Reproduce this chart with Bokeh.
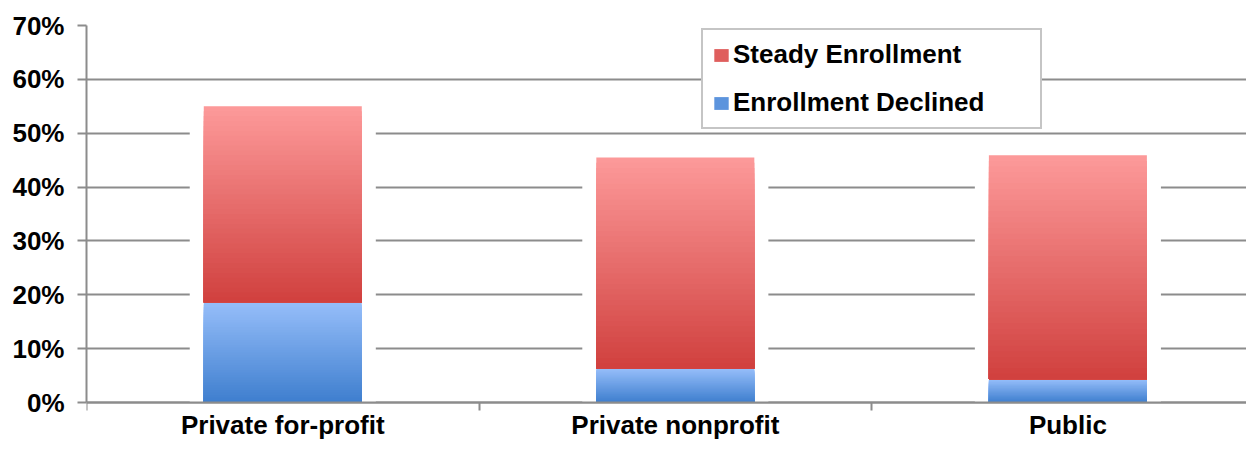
from bokeh.plotting import figure
from bokeh.models import Range1d, FixedTicker, PrintfTickFormatter, Legend, LegendItem
from bokeh.embed import file_html
from bokeh.resources import INLINE

# ---- data ----
categories = ["Private for-profit", "Private nonprofit", "Public"]
declined = [18.6, 6.3, 4.3]      # Enrollment Declined (%)
steady = [36.4, 39.2, 41.6]      # Steady Enrollment (%)
y_ticks = [0, 10, 20, 30, 40, 50, 60, 70]
series_names = ["Steady Enrollment", "Enrollment Declined"]

# ---- style / layout ----
GRAY = "#8c8c8c"
FONT = "Liberation Sans"
RED_TOP, RED_BOT = (253, 154, 154), (208, 64, 62)
BLUE_TOP, BLUE_BOT = (150, 190, 250), (62, 126, 206)
N_SLICES = 40
BAR_W = 0.4025
GLOW_W = 0.474
X_END = 2.955      # right edge of the visible area, in category units
Y_LOW = -7.24      # room under the 0% line for the category labels

xs = [i + 0.5 for i in range(len(categories))]
totals = [d + s for d, s in zip(declined, steady)]


def gradient_slices(xpos, bottoms, tops, c_top, c_bot, n=N_SLICES):
    X, B, T, C = [], [], [], []
    for k in range(n, 0, -1):
        f = k / n
        t = (k - 0.5) / n
        col = tuple(int(round(cb + (ct - cb) * t)) for cb, ct in zip(c_bot, c_top))
        hexc = "#%02x%02x%02x" % col
        for x, b, tp in zip(xpos, bottoms, tops):
            X.append(x)
            B.append(b)
            T.append(b + (tp - b) * f)
            C.append(hexc)
    return dict(x=X, bottom=B, top=T, color=C)


p = figure(width=1246, height=441,
           x_range=Range1d(0, X_END), y_range=Range1d(Y_LOW, y_ticks[-1]),
           output_backend="svg", toolbar_location=None,
           min_border_left=86, min_border_right=0,
           min_border_top=25, min_border_bottom=0)
p.outline_line_color = None
p.background_fill_color = "white"
p.border_fill_color = "white"

# white glow behind the bars (interrupts gridlines)
p.vbar(x=xs, bottom=0, top=totals, width=GLOW_W, fill_color="white", line_color=None)

blue = gradient_slices(xs, [0] * len(xs), declined, BLUE_TOP, BLUE_BOT)
red = gradient_slices(xs, declined, totals, RED_TOP, RED_BOT)
r_blue = p.vbar(x="x", bottom="bottom", top="top", width=BAR_W, fill_color="color",
                line_color=None, source=blue)
r_red = p.vbar(x="x", bottom="bottom", top="top", width=BAR_W, fill_color="color",
               line_color=None, source=red)

legend_index = (N_SLICES - 14) * len(xs)

# x axis pinned at y=0, boundary ticks, category names under the bars
xa = p.xaxis[0]
xa.fixed_location = 0
xa.ticker = FixedTicker(ticks=xs, minor_ticks=list(range(len(categories) + 1)))
xa.major_label_overrides = {x: c for x, c in zip(xs, categories)}
xa.major_tick_line_color = None
xa.major_tick_out = 0
xa.major_tick_in = 0
xa.minor_tick_out = 8
xa.minor_tick_in = 0
xa.minor_tick_line_color = GRAY
xa.minor_tick_line_width = 2
xa.axis_line_color = GRAY
xa.axis_line_width = 2
xa.major_label_standoff = -1
xa.major_label_text_font = FONT
xa.major_label_text_font_style = "bold"
xa.major_label_text_font_size = "26px"
xa.major_label_text_color = "black"

ya = p.yaxis[0]
ya.bounds = (y_ticks[0], y_ticks[-1])
ya.ticker = FixedTicker(ticks=y_ticks)
ya.formatter = PrintfTickFormatter(format="%d%%")
ya.major_tick_out = 9
ya.major_tick_in = 0
ya.major_tick_line_color = GRAY
ya.major_tick_line_width = 2
ya.minor_tick_line_color = None
ya.axis_line_color = GRAY
ya.axis_line_width = 2
ya.major_label_standoff = 13
ya.major_label_text_font = FONT
ya.major_label_text_font_style = "bold"
ya.major_label_text_font_size = "26px"
ya.major_label_text_color = "black"

p.xgrid.grid_line_color = None
p.ygrid.ticker = FixedTicker(ticks=y_ticks)
p.ygrid.grid_line_color = GRAY
p.ygrid.grid_line_width = 2

legend = Legend(
    items=[LegendItem(label=series_names[0], renderers=[r_red], index=legend_index),
           LegendItem(label=series_names[1], renderers=[r_blue], index=legend_index)],
    location=(615, 312), orientation="vertical",
    padding=9, spacing=17, label_height=29, label_width=298,
    glyph_width=18, glyph_height=16, label_standoff=3,
    border_line_color=GRAY, border_line_width=2,
    background_fill_color="white", background_fill_alpha=1.0,
    label_text_font=FONT, label_text_font_style="bold",
    label_text_font_size="26px", label_text_color="black",
)
p.add_layout(legend)

open("out.html", "w").write(file_html(p, INLINE))
